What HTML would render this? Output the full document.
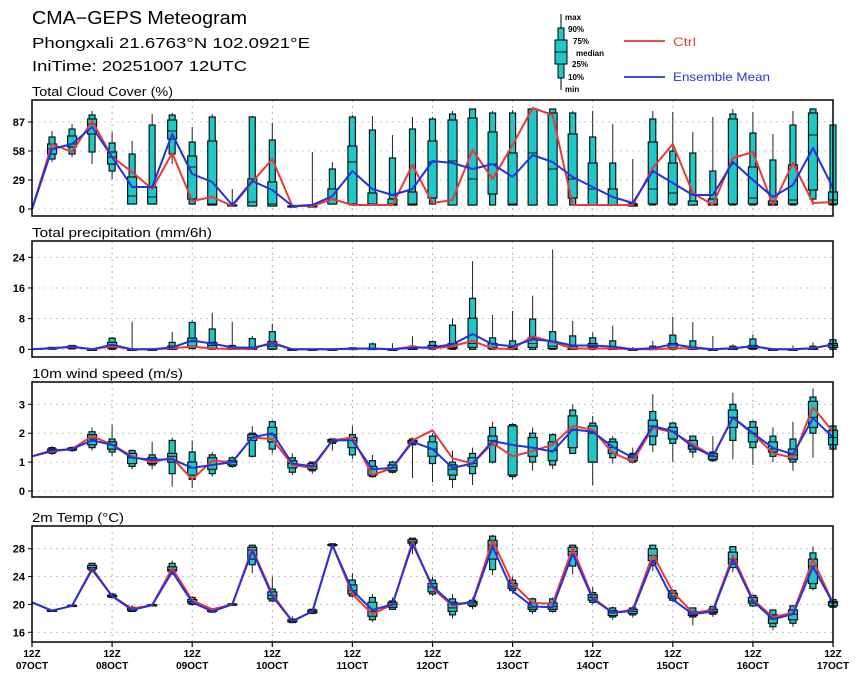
<!DOCTYPE html>
<html><head><meta charset="utf-8"><title>CMA-GEPS Meteogram</title>
<style>
html,body{margin:0;padding:0;background:#fff;}
svg{display:block;font-family:"Liberation Sans",sans-serif;}
</style></head>
<body>
<svg id="chart" width="860" height="680" viewBox="0 0 860 680" xmlns="http://www.w3.org/2000/svg">
<g>
<text x="32" y="24" font-size="18" fill="#000" textLength="215" lengthAdjust="spacingAndGlyphs">CMA−GEPS Meteogram</text>
<text x="32" y="48" font-size="15" fill="#000" textLength="278" lengthAdjust="spacingAndGlyphs">Phongxali 21.6763°N 102.0921°E</text>
<text x="32" y="71" font-size="15" fill="#000" textLength="215" lengthAdjust="spacingAndGlyphs">IniTime: 20251007 12UTC</text>
</g>
<g font-size="8" font-weight="bold">
<line x1="561" y1="14" x2="561" y2="90" stroke="#000" stroke-width="1"/>
<rect x="558" y="28" width="6" height="50" fill="#1ec8c8" stroke="#000"/>
<rect x="555" y="40" width="12" height="24" fill="#1ec8c8" stroke="#000"/>
<line x1="555" y1="52" x2="567" y2="52" stroke="#000"/>
<text x="565" y="20">max</text>
<text x="568" y="32">90%</text>
<text x="573" y="44">75%</text>
<text x="576" y="56">median</text>
<text x="572" y="67">25%</text>
<text x="568" y="80">10%</text>
<text x="565" y="92">min</text>
<line x1="624" y1="41" x2="665" y2="41" stroke="#e83a3a" stroke-width="1.8"/>
<text x="673" y="46" font-size="12" font-weight="normal" fill="#e83a3a" textLength="23" lengthAdjust="spacingAndGlyphs">Ctrl</text>
<line x1="624" y1="77" x2="665" y2="77" stroke="#2233dd" stroke-width="1.8"/>
<text x="673" y="81" font-size="12" font-weight="normal" fill="#2233dd" textLength="97" lengthAdjust="spacingAndGlyphs">Ensemble Mean</text>
</g>
<g id="panels"></g>
</svg>
<script>
const xLabelsTop = ["12Z","12Z","12Z","12Z","12Z","12Z","12Z","12Z","12Z","12Z","12Z"];
const xLabelsBottom = ["07OCT","08OCT","09OCT","10OCT","11OCT","12OCT","13OCT","14OCT","15OCT","16OCT","17OCT"];

const cloudTicks = [0,29,58,87];
const cloudCtrl = [0,65,57,88,52,37,20,56,8,12,3,27,50,3,3,10,4,4,4,44,6,9,59,30,64,101,94,4,4,4,4,41,65,16,4,51,57,4,46,6,7];
const cloudMean = [0,60,65,82,52,22,22,75,35,27,4,28,19,3,4,13,38,20,14,20,48,46,40,45,32,54,47,32,22,12,6,38,26,14,14,47,29,12,24,61,21];
const cloudBox = [null,
[47,50,55,60,65,72,78],[52,55,62,65,73,80,85],[45,57,75,85,90,94,98],[30,38,45,52,57,66,77],
[5,5,5,13,32,55,68],[5,5,5,12,22,84,95],[45,55,70,78,89,94,96],[4,5,10,42,53,67,82],
[4,4,4,5,68,92,95],[2,3,3,3,4,4,20],[3,3,3,7,30,92,93],[3,3,3,5,27,69,86],
[2,2,3,3,3,3,4],[2,3,3,3,3,4,57],[5,5,5,10,20,40,47],[4,4,5,47,63,92,94],
[4,4,4,5,16,79,93],[4,4,4,5,10,51,74],[4,4,4,5,17,80,92],[4,5,11,47,68,90,92],
[4,4,4,48,89,95,98],[4,4,4,30,91,100,100],[4,4,15,45,77,96,98],[4,4,4,5,56,96,99],
[4,4,4,56,100,100,101],[4,4,4,40,96,100,100],[4,4,11,30,75,96,98],[4,4,4,20,46,72,98],
[4,4,4,4,20,46,85],[3,3,3,4,5,6,50],[4,4,5,20,67,90,98],[4,4,5,16,46,58,97],
[3,4,4,4,8,56,77],[3,4,4,5,10,38,92],[4,4,5,45,90,95,100],[4,4,5,11,42,76,97],
[3,4,4,5,8,49,75],[4,4,5,9,44,84,98],[4,10,19,74,96,100,101],[4,4,5,9,17,84,84]];

const precTicks = [0,8,16,24];
const precCtrl = [0,0.3,0.6,0,0.8,0,0,0.3,0.7,0.2,0.1,0.1,1.8,0,0,0,0.1,0.2,0,0.7,0.2,0.8,2.2,0.2,0.1,3.4,1.9,0.2,0.2,0.2,0,0,0.3,0.3,0,0.3,0.8,0,0,0.3,1.2];
const precMean = [0,0.3,0.7,0,1.2,0,0,0.5,2.3,1.5,0.5,0.4,1.5,0,0,0,0.2,0.2,0,0.4,0.5,1.3,4,1.3,0.8,2.6,2.1,1,1,0.7,0,0.3,1.3,0.5,0,0.3,0.8,0,0,0.3,1.3];
const precBox = [null,
[0,0,0.1,0.2,0.4,0.5,0.6],[0,0.1,0.3,0.6,0.8,1.0,1.1],[0,0,0,0,0,0,0],[0,0,0.3,0.8,1.8,2.9,3.2],
[0,0,0,0,0,0,7.2],[0,0,0,0,0,0,0],[0,0,0,0.2,0.8,1.8,4.5],[0,0.2,0.8,2.0,2.9,7.0,7.5],
[0,0,0.3,1.0,1.8,5.3,9.5],[0,0,0,0.2,0.5,1.0,7.2],[0,0,0,0.1,0.5,2.8,3.5],[0,0,0.1,0.8,2.0,4.6,6.7],
[0,0,0,0,0,0,0],[0,0,0,0,0,0,0],[0,0,0,0,0,0,0],[0,0,0,0,0.2,0.4,0.5],
[0,0,0,0,0.2,1.4,1.8],[0,0,0,0,0,0,1.6],[0,0,0,0.1,0.3,0.8,3.4],[0,0,0.2,0.5,1.0,2.0,2.3],
[0,0,0.2,0.5,1.5,6.3,8.1],[0,0,0.5,1.5,8.1,13.3,23],[0,0,0.2,0.5,1.5,3.0,9],[0,0,0,0.2,0.5,2.2,10],
[0,0,0.5,1.5,3.0,7.9,14],[0,0,0.2,0.8,2.0,4.6,26],[0,0,0,0.3,0.8,3.5,7.4],[0,0,0.2,0.6,1.5,3.0,4.4],
[0,0,0,0.1,0.5,2.2,6.2],[0,0,0,0,0,0,0.6],[0,0,0,0,0.2,0.8,2.2],[0,0,0.2,0.5,1.5,3.7,8.5],
[0,0,0,0.2,0.5,2.2,7.1],[0,0,0,0,0,0,3.5],[0,0,0,0.1,0.3,0.8,1.3],[0,0,0.2,0.5,1.0,2.7,3.9],
[0,0,0,0,0,0,0],[0,0,0,0,0,0,1.0],[0,0,0,0.1,0.3,0.8,1.8],[0,0,0.5,1.0,1.5,2.5,2.8]];

const windTicks = [0,1,2,3];
const windCtrl = [1.2,1.37,1.45,1.9,1.6,1.2,1.0,1.15,0.4,1.05,1.0,1.85,1.8,0.9,0.8,1.75,1.85,0.55,0.8,1.75,2.1,1.13,0.95,1.65,1.2,1.38,1.6,2.25,2.12,1.32,1.02,2.19,2.03,1.62,1.2,2.53,1.98,1.31,1.15,2.9,2.05];
const windMean = [1.2,1.4,1.45,1.75,1.6,1.15,1.08,1.1,0.8,0.9,1.0,1.85,2.0,0.95,0.85,1.75,1.75,0.75,0.8,1.7,1.45,0.8,0.95,1.73,1.59,1.5,1.36,2.13,2.05,1.53,1.15,2.25,2.07,1.53,1.2,2.55,2.0,1.49,1.27,2.52,1.85];
const windBox = [null,
[1.25,1.3,1.35,1.4,1.45,1.5,1.55],[1.35,1.4,1.42,1.45,1.48,1.5,1.55],[1.4,1.5,1.6,1.8,1.95,2.05,2.2],[1.2,1.35,1.45,1.6,1.7,1.8,2.3],
[0.75,0.85,0.95,1.15,1.3,1.4,1.45],[0.75,0.9,0.95,1.05,1.15,1.25,1.7],[0.15,0.6,1.0,1.2,1.3,1.75,1.85],[0.1,0.4,0.55,0.8,1.0,1.35,1.75],
[0.5,0.6,0.75,0.9,1.15,1.25,1.35],[0.8,0.85,0.9,1.0,1.05,1.15,1.2],[1.15,1.2,1.75,1.85,1.95,2.0,2.25],[1.3,1.45,1.7,1.95,2.2,2.4,2.45],
[0.55,0.65,0.8,0.95,1.05,1.15,1.3],[0.6,0.7,0.75,0.85,0.95,1.0,1.0],[1.4,1.65,1.7,1.75,1.78,1.8,1.8],[1.1,1.25,1.5,1.75,1.85,1.95,2.25],
[0.45,0.5,0.55,0.75,0.85,1.05,1.25],[0.6,0.65,0.7,0.8,0.9,1.0,1.05],[0.45,1.6,1.65,1.7,1.75,1.8,1.85],[0.3,0.95,1.2,1.45,1.7,1.9,2.0],
[0.1,0.4,0.55,0.75,0.9,1.0,1.4],[0.2,0.6,0.85,0.95,1.15,1.3,1.5],[0.95,1.0,1.6,1.75,1.9,2.2,2.4],[0.4,0.5,0.55,1.6,2.25,2.3,2.35],
[0.7,1.0,1.2,1.5,1.85,2.0,2.2],[0.75,0.9,1.05,1.4,1.7,1.95,2.0],[1.3,1.3,1.5,2.1,2.6,2.8,3.0],[0.2,1.0,1.0,2.0,2.25,2.35,2.6],
[0.95,1.15,1.3,1.5,1.7,1.8,1.9],[0.95,1.0,1.05,1.15,1.25,1.3,1.5],[1.35,1.6,1.9,2.25,2.45,2.75,3.35],[1.0,1.65,1.8,2.05,2.2,2.35,2.4],
[1.15,1.35,1.45,1.55,1.75,1.9,1.9],[1.0,1.05,1.1,1.2,1.3,1.35,1.9],[1.1,1.75,2.2,2.55,2.8,3.0,3.4],[0.9,1.5,1.7,2.0,2.2,2.4,2.45],
[1.0,1.2,1.35,1.45,1.7,1.9,2.2],[0.7,1.0,1.1,1.25,1.45,1.8,2.4],[1.15,2.0,2.2,2.55,3.1,3.25,3.55],[1.45,1.45,1.6,1.85,2.1,2.25,2.25]];

const tempTicks = [16,20,24,28];
const tempCtrl = [20.3,19.1,19.8,25.2,21.2,19.4,19.9,25.2,20.6,19.3,20.0,28.0,21.5,17.6,19.0,28.5,21.5,18.6,20.0,29.0,22.3,19.8,20.4,29.2,23.0,20.2,20.1,28.1,21.0,18.8,19.2,27.2,21.8,18.8,19.2,27.0,20.7,18.2,18.8,26.4,20.2];
const tempMean = [20.3,19.1,19.8,25.0,21.2,19.2,19.9,24.7,20.3,19.0,20.0,27.7,21.2,17.6,19.0,28.5,22.0,19.2,20.0,28.7,22.6,20.0,20.3,28.3,21.9,19.7,19.6,27.3,20.8,18.8,19.1,26.3,20.7,18.6,19.0,26.5,20.5,17.9,18.6,25.4,20.2];
const tempBox = [null,
[19.0,19.0,19.05,19.1,19.15,19.2,19.2],[19.7,19.75,19.8,19.8,19.85,19.9,19.9],[24.6,24.9,25.1,25.3,25.6,25.9,26.0],[20.9,21.0,21.1,21.2,21.3,21.5,21.6],
[18.9,19.0,19.1,19.2,19.4,19.6,19.9],[19.7,19.8,19.85,19.9,19.95,20.0,20.0],[24.2,24.5,24.8,25.0,25.4,25.9,26.3],[19.8,20.0,20.2,20.4,20.7,21.0,21.2],
[18.8,18.9,19.0,19.1,19.3,19.4,19.5],[19.8,19.9,19.95,20.0,20.05,20.1,20.2],[24.5,25.7,26.5,27.8,28.2,28.5,28.6],[20.3,20.5,20.8,21.3,21.8,22.2,24.0],
[17.3,17.4,17.5,17.6,17.8,17.9,18.3],[18.6,18.7,18.8,19.0,19.2,19.3,19.4],[28.3,28.4,28.5,28.5,28.6,28.7,28.8],[21.0,21.2,21.5,22.0,22.8,23.5,24.5],
[17.5,17.8,18.3,19.0,20.3,21.0,21.5],[19.2,19.3,19.6,20.0,20.3,20.5,21.0],[27.2,28.5,28.8,29.0,29.3,29.5,29.6],[21.2,21.5,21.8,22.5,23.0,23.5,24.0],
[18.0,18.5,19.0,19.5,20.3,20.8,21.5],[19.3,19.7,19.9,20.2,20.4,20.6,21.0],[24.2,25.0,26.5,28.5,29.2,29.8,30.0],[21.5,22.0,22.3,22.6,23.0,23.5,24.0],
[18.6,19.0,19.3,19.6,20.2,20.8,21.0],[18.8,19.0,19.3,19.7,20.2,20.8,21.0],[24.3,25.5,27.0,27.6,28.2,28.5,28.6],[20.0,20.3,20.6,21.0,21.4,21.7,22.5],
[17.8,18.2,18.4,18.8,19.1,19.5,19.7],[18.1,18.5,18.7,19.0,19.3,19.5,19.8],[24.8,25.6,26.3,27.0,28.0,28.5,28.6],[20.3,20.6,20.9,21.2,21.6,22.0,22.2],
[17.0,18.2,18.4,18.6,19.0,19.5,19.5],[18.2,18.6,18.8,19.0,19.3,19.7,19.8],[24.6,25.3,25.8,26.5,27.5,28.3,28.3],[19.6,19.8,20.2,20.5,21.0,21.3,21.4],
[16.3,16.8,17.3,17.9,18.5,19.2,19.3],[16.8,17.3,17.8,18.6,19.2,19.8,19.9],[22.0,22.3,23.0,25.5,26.5,27.4,28.3],[19.4,19.6,19.8,20.2,20.4,20.7,20.8]];

const NS = "http://www.w3.org/2000/svg";
const X0 = 32, X1 = 833, NSTEP = 40;
function xs(i){ return X0 + (X1 - X0) * i / NSTEP; }
function mk(tag, attrs, parent){
  const e = document.createElementNS(NS, tag);
  for (const k in attrs) e.setAttribute(k, attrs[k]);
  parent.appendChild(e);
  return e;
}
const root = document.getElementById("panels");

const panels = [
  {key:"cloud", title:"Total Cloud Cover (%)", tw:141, top:100, bottom:216, v0:0, y0:209, v1:87, y1:122, ticks:cloudTicks, ctrl:cloudCtrl, mean:cloudMean, box:cloudBox},
  {key:"precip", title:"Total precipitation (mm/6h)", tw:180, top:241, bottom:357, v0:0, y0:349.3, v1:24, y1:257.3, ticks:precTicks, ctrl:precCtrl, mean:precMean, box:precBox},
  {key:"wind", title:"10m wind speed (m/s)", tw:151, top:382, bottom:497, v0:0, y0:491, v1:3, y1:404.3, ticks:windTicks, ctrl:windCtrl, mean:windMean, box:windBox},
  {key:"temp", title:"2m Temp (°C)", tw:92, top:526, bottom:642, v0:16, y0:632.3, v1:28, y1:548.7, ticks:tempTicks, ctrl:tempCtrl, mean:tempMean, box:tempBox}
];

panels.forEach(function(p){
  const ys = function(v){ return p.y0 + (v - p.v0) * (p.y1 - p.y0) / (p.v1 - p.v0); };
  const g = mk("g", {}, root);
  
  
  const t = mk("text", {x:32, y:p.top-4, "font-size":12.5, fill:"#000", textLength:p.tw, lengthAdjust:"spacingAndGlyphs"}, g);
  t.textContent = p.title;
  
  
  p.ticks.forEach(function(v){
    const y = ys(v);
    const gl = mk("line", {x1:X0, x2:X1, y1:y, y2:y, stroke:"#bbb", "stroke-width":0.8, "stroke-dasharray":"2,4"}, g);
    
    
    const tk = mk("line", {x1:X0-4, x2:X0, y1:y, y2:y, stroke:"#000", "stroke-width":1}, g);
    
    
    const lb = mk("text", {x:X0-7, y:y+4, "font-size":11, "font-weight":"bold", "text-anchor":"end", fill:"#000"}, g);
    lb.textContent = String(v);
    
    
  });
  for (let d = 1; d < 10; d++){
    const x = xs(d*4);
    const vg = mk("line", {x1:x, x2:x, y1:p.top, y2:p.bottom, stroke:"#aaa", "stroke-width":0.9, "stroke-dasharray":"2,4"}, g);
    
    
  }
  const bg = mk("g", {}, g);
  
  
  p.box.forEach(function(b, i){
    if (!b) return;
    const x = xs(i);
    const wl = mk("line", {x1:x, x2:x, y1:ys(b[0]), y2:ys(b[6]), stroke:"#222", "stroke-width":1}, bg);
    
    
    const o = mk("rect", {x:x-3, y:ys(b[5]), width:6, height:Math.max(1, ys(b[1]) - ys(b[5])), fill:"#1ec8c8", stroke:"#111", "stroke-width":1.2}, bg);
    
    
    const r = mk("rect", {x:x-4.5, y:ys(b[4]), width:9, height:Math.max(1, ys(b[2]) - ys(b[4])), fill:"#1ec8c8", stroke:"#111", "stroke-width":1.2}, bg);
    
    
    const m = mk("line", {x1:x-4.5, x2:x+4.5, y1:ys(b[3]), y2:ys(b[3]), stroke:"#111", "stroke-width":1}, bg);
    
    
  });
  const cp = p.ctrl.map(function(v,i){ return xs(i).toFixed(1)+","+ys(v).toFixed(1); }).join(" ");
  const cl = mk("polyline", {points:cp, fill:"none", stroke:"#e83a3a", "stroke-width":2, "stroke-linejoin":"round"}, g);
  
  
  const mp = p.mean.map(function(v,i){ return xs(i).toFixed(1)+","+ys(v).toFixed(1); }).join(" ");
  const ml = mk("polyline", {points:mp, fill:"none", stroke:"#2233dd", "stroke-width":2, "stroke-linejoin":"round"}, g);
  
  
  const fr = mk("rect", {x:X0, y:p.top, width:X1-X0, height:p.bottom-p.top, fill:"none", stroke:"#000", "stroke-width":1.5}, g);
  
  
});

const xa = mk("g", {}, root);


xLabelsBottom.forEach(function(lbl, d){
  const x = xs(d*4);
  const tk = mk("line", {x1:x, x2:x, y1:642, y2:647, stroke:"#000", "stroke-width":1.2}, xa);
  
  
  const t1 = mk("text", {x:x, y:657, "font-size":10, "font-weight":"bold", "text-anchor":"middle"}, xa);
  t1.textContent = xLabelsTop[d];
  
  
  const t2 = mk("text", {x:x, y:669, "font-size":10, "font-weight":"bold", "text-anchor":"middle"}, xa);
  t2.textContent = lbl;
  
  
});
</script>
</body></html>
